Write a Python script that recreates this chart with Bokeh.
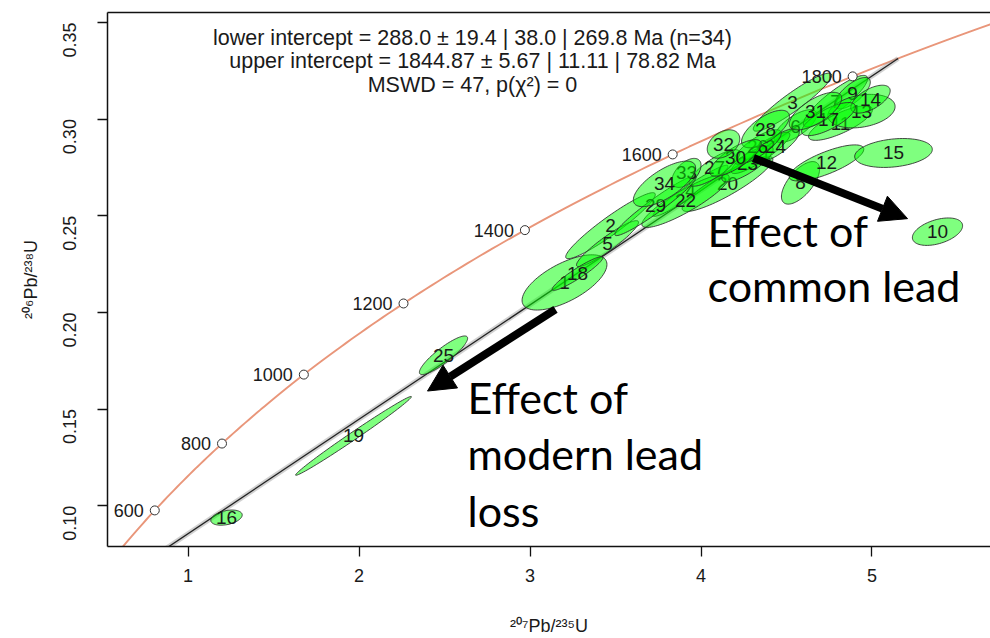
import math
import numpy as np
from bokeh.plotting import figure
from bokeh.models import (Range1d, FixedTicker, PrintfTickFormatter, LinearAxis,
                          Label, Arrow, NormalHead)
from bokeh.core.properties import value
from bokeh.embed import file_html
from bokeh.resources import INLINE

# ---------------- data ----------------
# decay constants (1/Myr)
LAMBDA_238 = 1.55125e-4
LAMBDA_235 = 9.8485e-4

grain_ids = list(range(1, 35))
ratio_207_235 = [3.2018, 3.4708, 4.5351, 3.9386, 3.4532, 4.5526, 4.7865, 4.5819, 4.8860, 5.3830,
                 4.8158, 4.7339, 4.9386, 4.9912, 5.1257, 1.2251, 4.7456, 3.2778, 1.9678, 4.1550,
                 4.3480, 3.9094, 4.2719, 4.4357, 2.4942, 4.3304, 4.0789, 4.3772, 3.7339, 4.2018,
                 4.6696, 4.1316, 3.9152, 3.7865]
err_207_235 = [0.2482, 0.2620, 0.2292, 0.2191, 0.1814, 0.1244, 0.1878, 0.1115, 0.1042, 0.1468,
               0.1871, 0.2182, 0.1965, 0.1152, 0.2270, 0.0919, 0.1573, 0.1480, 0.3386, 0.2653,
               0.1717, 0.2553, 0.1499, 0.1389, 0.1410, 0.1389, 0.1484, 0.1401, 0.2378, 0.1505,
               0.1533, 0.0951, 0.0851, 0.1821]
ratio_206_238 = [0.21550, 0.24485, 0.30876, 0.26289, 0.23557, 0.29639, 0.30928, 0.26701, 0.31340, 0.24175,
                 0.29794, 0.27732, 0.30412, 0.31031, 0.28247, 0.09381, 0.30000, 0.22010, 0.13610, 0.26649,
                 0.28247, 0.25773, 0.27680, 0.28608, 0.17780, 0.28557, 0.27474, 0.29485, 0.25515, 0.27990,
                 0.30412, 0.28711, 0.27216, 0.26649]
err_206_238 = [0.01429, 0.01708, 0.01502, 0.01322, 0.01188, 0.00851, 0.01333, 0.01101, 0.00811, 0.00710,
               0.00894, 0.00934, 0.00868, 0.00722, 0.00748, 0.00393, 0.00857, 0.00870, 0.02040, 0.01427,
               0.01065, 0.01379, 0.00928, 0.00894, 0.01000, 0.00894, 0.00946, 0.00971, 0.01543, 0.00946,
               0.00973, 0.00735, 0.00751, 0.01178]
error_corr = [0.650, 0.943, 0.926, 0.960, 0.928, 0.702, 0.876, 0.643, 0.708, 0.430,
              0.776, 0.760, 0.272, 0.603, 0.245, 0.351, 0.741, 0.936, 0.993, 0.890,
              0.887, 0.882, 0.811, 0.791, 0.880, 0.791, 0.815, 0.667, 0.958, 0.773,
              0.686, 0.365, 0.528, 0.706]

age_ticks = [600, 800, 1000, 1200, 1400, 1600, 1800]
lower_intercept_age = 288.0
upper_intercept_age = 1844.87
concordia_ages = list(range(400, 2101, 10))

x_ticks = [1, 2, 3, 4, 5]
y_ticks = [0.10, 0.15, 0.20, 0.25, 0.30, 0.35]

title_lines = ["lower intercept = 288.0 \u00b1 19.4 | 38.0 | 269.8 Ma (n=34)",
               "upper intercept = 1844.87 \u00b1 5.67 | 11.11 | 78.82 Ma",
               "MSWD = 47, p(\u03c7\u00b2) = 0"]
x_label = "\u00b2\u2070\u2077Pb/\u00b2\u00b3\u2075U"
y_label = "\u00b2\u2070\u2076Pb/\u00b2\u00b3\u2078U"
note_common = ["Effect of", "common lead"]
note_loss = ["Effect of", "modern lead", "loss"]

# ---------------- figure ----------------
FONT = "Liberation Sans"
TXT = "#1a1a1a"

p = figure(width=990, height=638, output_backend="svg", toolbar_location=None,
           x_range=Range1d(0.5292, 5.693), y_range=Range1d(0.07887, 0.35515),
           min_border_left=107, min_border_right=0, min_border_top=12, min_border_bottom=91)
p.grid.visible = False
p.outline_line_color = None
p.background_fill_color = "white"
p.border_fill_color = "white"

for ax in (p.xaxis[0], p.yaxis[0]):
    ax.axis_line_color = "#111111"
    ax.axis_line_width = 1.5
    ax.major_tick_line_color = "#111111"
    ax.major_tick_line_width = 1.3
    ax.major_tick_out = 10
    ax.major_tick_in = 0
    ax.minor_tick_line_color = None
    ax.major_label_text_font = FONT
    ax.major_label_text_font_size = "18px"
    ax.major_label_text_color = TXT
    ax.axis_label_text_font = FONT
    ax.axis_label_text_font_size = "18px"
    ax.axis_label_text_font_style = "normal"
    ax.axis_label_text_color = TXT

p.xaxis.ticker = FixedTicker(ticks=x_ticks)
p.xaxis.formatter = PrintfTickFormatter(format="%d")
p.xaxis.major_label_standoff = 12
p.xaxis.axis_label = x_label
p.xaxis.axis_label_standoff = 31

p.yaxis.ticker = FixedTicker(ticks=y_ticks)
p.yaxis.formatter = PrintfTickFormatter(format="%.2f")
p.yaxis.major_label_orientation = math.pi / 2
p.yaxis.major_label_standoff = 28
p.yaxis.axis_label = y_label
p.yaxis.axis_label_standoff = 13

top = LinearAxis(ticker=FixedTicker(ticks=[]), axis_line_color="#111111", axis_line_width=1.5,
                 major_tick_line_color=None, minor_tick_line_color=None,
                 major_tick_out=0, major_tick_in=0)
p.add_layout(top, "above")

# concordia curve
ages = np.array(concordia_ages, dtype=float)
cx = np.exp(LAMBDA_235 * ages) - 1
cy = np.exp(LAMBDA_238 * ages) - 1
p.line(cx, cy, line_color="#E9967A", line_width=1.9)

# discordia line (between intercepts) with envelope
t_lo, t_hi = lower_intercept_age, upper_intercept_age
dx = [math.exp(LAMBDA_235 * t_lo) - 1, math.exp(LAMBDA_235 * t_hi) - 1]
dy = [math.exp(LAMBDA_238 * t_lo) - 1, math.exp(LAMBDA_238 * t_hi) - 1]
p.line(dx, dy, line_color="#9a9a9a", line_width=5, line_alpha=0.45)
p.line(dx, dy, line_color="#222222", line_width=1.3)

# error ellipses with labels
tt = np.linspace(0, 2 * np.pi, 90)
for gid, x, sx, y, sy, r in zip(grain_ids, ratio_207_235, err_207_235,
                                ratio_206_238, err_206_238, error_corr):
    ex = x + sx * np.cos(tt)
    ey = y + sy * (r * np.cos(tt) + math.sqrt(1 - r * r) * np.sin(tt))
    p.patch(ex, ey, fill_color="#00ff00", fill_alpha=0.5,
            line_color="#2a2a2a", line_alpha=0.85, line_width=1)
    p.text(x=[x], y=[y], text=[str(gid)], text_align="center", text_baseline="middle",
           text_font=value(FONT), text_font_size="19px", text_color=TXT)

# age markers on concordia
at = np.array(age_ticks, dtype=float)
mx = np.exp(LAMBDA_235 * at) - 1
my = np.exp(LAMBDA_238 * at) - 1
p.scatter(mx, my, size=9, marker="circle", fill_color="white",
          line_color="#333333", line_width=1)
p.text(x=mx, y=my, text=[str(a) for a in age_ticks], x_offset=-11,
       text_align="right", text_baseline="middle",
       text_font=value(FONT), text_font_size="18px", text_color=TXT)

# header text
for txt, ty in zip(title_lines, [0.3422, 0.3299, 0.3175]):
    p.add_layout(Label(x=2.6637, y=ty, text=txt, text_align="center", text_baseline="middle",
                       text_font=FONT, text_font_size="21.5px", text_color=TXT))

# annotations
ANN = "Lato"
for txt, ty in zip(note_common, [0.2422, 0.2139]):
    p.add_layout(Label(x=4.038, y=ty, text=txt, text_align="left", text_baseline="alphabetic",
                       text_font=ANN, text_font_size="43px", text_color="black"))
for txt, ty in zip(note_loss, [0.1561, 0.1268, 0.0974]):
    p.add_layout(Label(x=2.6345, y=ty, text=txt, text_align="left", text_baseline="alphabetic",
                       text_font=ANN, text_font_size="43px", text_color="black"))

p.add_layout(Arrow(end=NormalHead(size=27, fill_color="black", line_color="black"),
                   x_start=4.307, y_start=0.2799, x_end=5.208, y_end=0.2485,
                   line_color="black", line_width=8))
p.add_layout(Arrow(end=NormalHead(size=27, fill_color="black", line_color="black"),
                   x_start=3.149, y_start=0.2015, x_end=2.4006, y_end=0.1593,
                   line_color="black", line_width=8))

open("out.html", "w").write(file_html(p, INLINE))
